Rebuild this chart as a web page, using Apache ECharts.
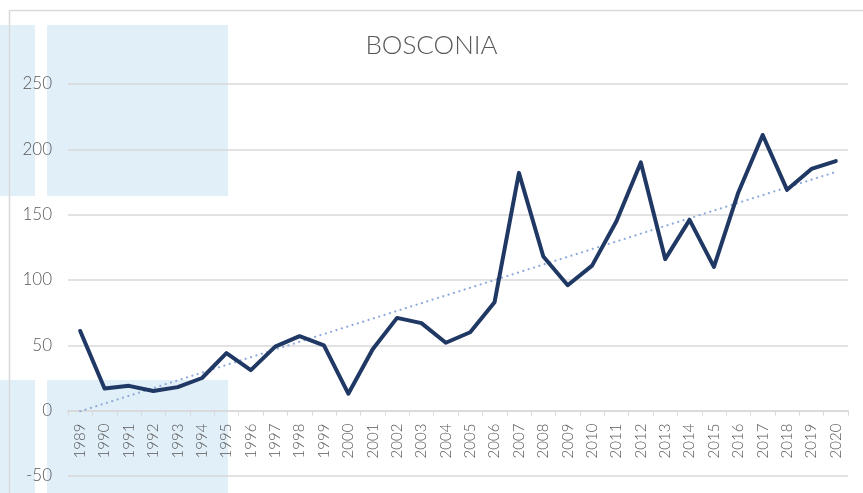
<!DOCTYPE html>
<html>
<head>
<meta charset="utf-8">
<script src="https://cdn.jsdelivr.net/npm/echarts@6/dist/echarts.min.js"></script>
<style>
html,body{margin:0;padding:0;background:#fff;}
#chart{width:863px;height:493px;}
</style>
</head>
<body>
<div id="chart"></div>
<script>
const years = ['1989','1990','1991','1992','1993','1994','1995','1996','1997','1998','1999','2000','2001','2002','2003','2004','2005','2006','2007','2008','2009','2010','2011','2012','2013','2014','2015','2016','2017','2018','2019','2020'];
const values = [61,17,19,15,18,25,44,31,49,57,50,13,47,71,67,52,60,83,182,118,96,111,145,190,116,146,110,167,211,169,185,191];
const yTicks = {min:-50, max:250, interval:50};
const titleText = 'BOSCONIA';

// linear trend (least squares) from the data
const n = values.length;
let sx=0, sy=0, sxx=0, sxy=0;
values.forEach((v,i)=>{sx+=i;sy+=v;sxx+=i*i;sxy+=i*v;});
const slope = (n*sxy - sx*sy)/(n*sxx - sx*sx);
const icpt = (sy - slope*sx)/n;
const trend = values.map((v,i)=> +(icpt + slope*i).toFixed(2));

const gridTop = 84, gridBottom = 17, H = 493;
const zeroOffset = (H - gridTop - gridBottom) * (0 - yTicks.min) / (yTicks.max - yTicks.min);

const chart = echarts.init(document.getElementById('chart'), null, {renderer:'canvas'});
const rectColor = '#e1eff9';
chart.setOption({
  animation:false,
  backgroundColor:'#ffffff',
  title:{
    text:titleText, left:'center', top:28,
    textStyle:{fontFamily:'Lato', fontWeight:300, fontSize:26, color:'#595959'}
  },
  graphic:[
    {type:'rect', z:-10, shape:{x:0,y:25,width:35,height:171}, style:{fill:rectColor}},
    {type:'rect', z:-10, shape:{x:47,y:25,width:181,height:171}, style:{fill:rectColor}},
    {type:'rect', z:-10, shape:{x:0,y:380,width:35,height:113}, style:{fill:rectColor}},
    {type:'rect', z:-10, shape:{x:47,y:380,width:181,height:113}, style:{fill:rectColor}},
    {type:'line', z:-5, shape:{x1:9.5,y1:10,x2:9.5,y2:493}, style:{stroke:'#d9d9d9', lineWidth:1.5}},
    {type:'line', z:-5, shape:{x1:9,y1:10.5,x2:863,y2:10.5}, style:{stroke:'#d9d9d9', lineWidth:1.5}}
  ],
  grid:{left:68, right:15, top:gridTop, bottom:gridBottom, containLabel:false, outerBoundsMode:'none'},
  xAxis:{
    type:'category', data:years, boundaryGap:true, position:'bottom', offset:-zeroOffset,
    axisLine:{onZero:false, lineStyle:{color:'#d9d9d9', width:1.5}},
    axisTick:{show:true, length:5, lineStyle:{color:'#d9d9d9'}},
    axisLabel:{rotate:90, margin:13, interval:0, fontFamily:'Lato', fontWeight:300, fontSize:15, color:'#595959'}
  },
  yAxis:{
    type:'value', min:yTicks.min, max:yTicks.max, interval:yTicks.interval,
    axisLine:{show:false}, axisTick:{show:false},
    splitLine:{lineStyle:{color:'#d9d9d9', width:1.5}},
    axisLabel:{margin:16, fontFamily:'Lato', fontWeight:300, fontSize:17, color:'#595959'}
  },
  series:[
    {type:'line', data:values, symbol:'none', z:3,
     lineStyle:{color:'#203864', width:4, join:'round', cap:'round'}},
    {type:'line', data:trend, symbol:'none', z:2,
     lineStyle:{color:'#8eaadb', width:2.2, type:[0.1,5.5], cap:'round'}}
  ]
});
</script>
</body>
</html>
